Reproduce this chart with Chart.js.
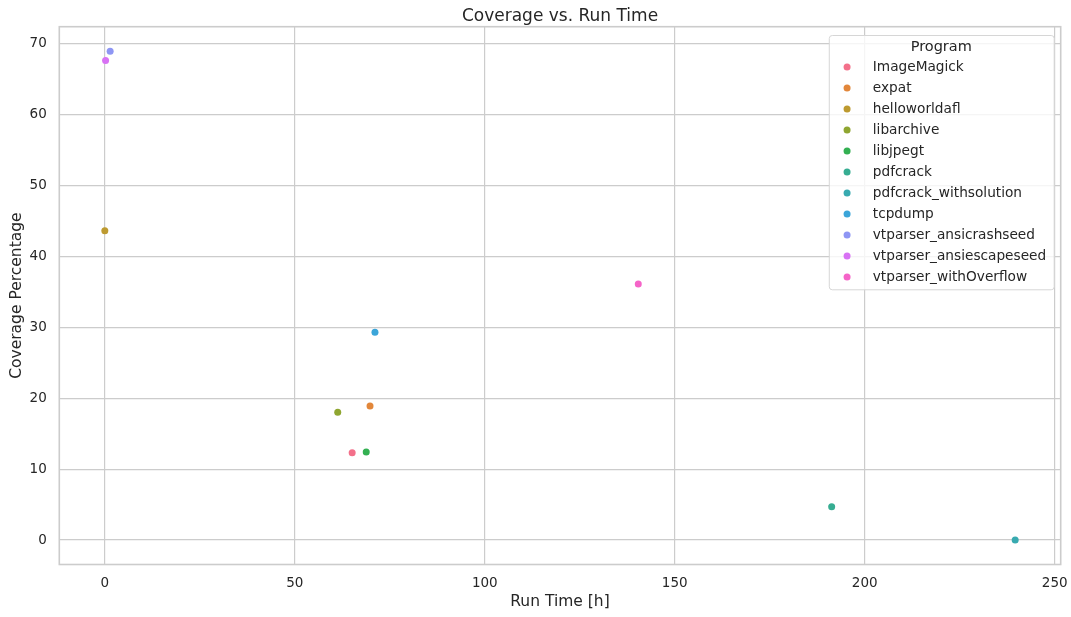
<!DOCTYPE html>
<html>
<head>
<meta charset="utf-8">
<script src="https://cdn.jsdelivr.net/npm/chart.js@4.4.1/dist/chart.umd.min.js"></script>
<style>
html,body{margin:0;padding:0;background:#ffffff;}
canvas{display:block;}
</style>
</head>
<body>
<canvas id="c" width="1071" height="617"></canvas>
<script>
// ---- data ----
const programs = [
  "ImageMagick", "expat", "helloworldafl", "libarchive", "libjpegt",
  "pdfcrack", "pdfcrack_withsolution", "tcpdump",
  "vtparser_ansicrashseed", "vtparser_ansiescapeseed", "vtparser_withOverflow"
];
const runTimeHours = [65.1, 69.8, 0.0, 61.3, 68.8, 191.3, 239.6, 71.1, 1.4, 0.2, 140.4];
const coveragePct  = [12.3, 18.9, 43.6, 18.0, 12.4, 4.7, 0.0, 29.3, 68.9, 67.6, 36.1];
const palette = [
  "#f3708a", "#e2873a", "#bd9a30", "#8fa631", "#33b052", "#36ad92",
  "#38aab0", "#3ba5d9", "#8e96f4", "#d872f4", "#f564c8"
];
const xTickValues = [0, 50, 100, 150, 200, 250];
const yTickValues = [0, 10, 20, 30, 40, 50, 60, 70];
const legendTitle = "Program";
const chartTitle = "Coverage vs. Run Time";
const xLabel = "Run Time [h]";
const yLabel = "Coverage Percentage";

// ---- styling ----
const FONT = '"DejaVu Sans", "Liberation Sans", sans-serif';
const TEXT = '#262626';
const GRID = '#cccccc';
Chart.defaults.font.family = FONT;
Chart.defaults.color = TEXT;

const datasets = programs.map((p, i) => ({
  label: p,
  data: [{ x: runTimeHours[i], y: coveragePct[i] }],
  backgroundColor: palette[i],
  borderColor: palette[i],
  borderWidth: 0,
  pointRadius: 3.5,
  pointHoverRadius: 3.5
}));

const spinePlugin = {
  id: 'spines',
  beforeDatasetsDraw(chart) {
    const ctx = chart.ctx, a = chart.chartArea;
    ctx.save();
    ctx.strokeStyle = GRID;
    ctx.lineWidth = 1.6;
    ctx.strokeRect(a.left, a.top, a.right - a.left, a.bottom - a.top);
    ctx.restore();
  }
};

const legendPlugin = {
  id: 'boxLegend',
  afterDatasetsDraw(chart) {
    const ctx = chart.ctx, a = chart.chartArea;
    ctx.save();
    ctx.font = '13.7px ' + FONT;
    let maxW = 0;
    chart.data.datasets.forEach(d => { maxW = Math.max(maxW, ctx.measureText(d.label).width); });
    const rowH = 21;
    const n = chart.data.datasets.length;
    const w = 44 + maxW + 7.5;
    const h = 31 + rowH * (n - 1) + 13.3;
    const right = a.right - 7, top = a.top + 8.3, left = right - w;
    ctx.beginPath();
    ctx.roundRect(left + 0.5, top + 0.5, w, h, 3);
    ctx.fillStyle = 'rgba(255,255,255,0.8)';
    ctx.fill();
    ctx.strokeStyle = '#d6d6d6';
    ctx.lineWidth = 1;
    ctx.stroke();
    ctx.fillStyle = TEXT;
    ctx.textBaseline = 'middle';
    ctx.textAlign = 'center';
    ctx.font = '14.5px ' + FONT;
    ctx.fillText(legendTitle, left + w / 2, top + 12);
    ctx.font = '13.7px ' + FONT;
    ctx.textAlign = 'left';
    chart.data.datasets.forEach((d, i) => {
      const cy = top + 32 + rowH * i;
      ctx.beginPath();
      ctx.arc(left + 18.3, cy, 3.5, 0, Math.PI * 2);
      ctx.fillStyle = d.backgroundColor;
      ctx.fill();
      ctx.fillStyle = TEXT;
      ctx.fillText(d.label, left + 44, cy + 0.5);
    });
    ctx.restore();
  }
};

new Chart(document.getElementById('c'), {
  type: 'scatter',
  data: { datasets },
  options: {
    responsive: false,
    animation: false,
    devicePixelRatio: 1,
    layout: { padding: { left: 0, right: 10.3, top: 0, bottom: 0 } },
    plugins: {
      legend: { display: false },
      tooltip: { enabled: false },
      title: {
        display: true,
        text: chartTitle,
        fullSize: false,
        color: TEXT,
        font: { size: 17, weight: 'normal', family: FONT },
        padding: { top: 6.3, bottom: 0 }
      }
    },
    scales: {
      x: {
        type: 'linear',
        min: -11.98,
        max: 251.58,
        afterBuildTicks: s => { s.ticks = xTickValues.map(v => ({ value: v })); },
        afterFit: s => { s.height = 52.5; s.paddingLeft = 0; s.paddingRight = 0; },
        ticks: { padding: 11, color: TEXT, font: { size: 13.5 }, callback: v => String(v) },
        grid: { color: GRID, lineWidth: 1.2, drawTicks: false },
        border: { display: false },
        title: {
          display: true, text: xLabel, color: TEXT,
          font: { size: 15.5 }, padding: { top: 0, bottom: 6 }
        }
      },
      y: {
        type: 'linear',
        min: -3.44,
        max: 72.35,
        afterBuildTicks: s => { s.ticks = yTickValues.map(v => ({ value: v })); },
        afterFit: s => { s.width = 59.3; s.paddingTop = 0; s.paddingBottom = 0; },
        ticks: { padding: 12.5, color: TEXT, font: { size: 13.5 }, callback: v => String(v) },
        grid: { color: GRID, lineWidth: 1.2, drawTicks: false },
        border: { display: false },
        title: {
          display: true, text: yLabel, color: TEXT,
          font: { size: 15.5 }, padding: { top: 7.7, bottom: 0 }
        }
      }
    }
  },
  plugins: [spinePlugin, legendPlugin]
});
</script>
</body>
</html>
